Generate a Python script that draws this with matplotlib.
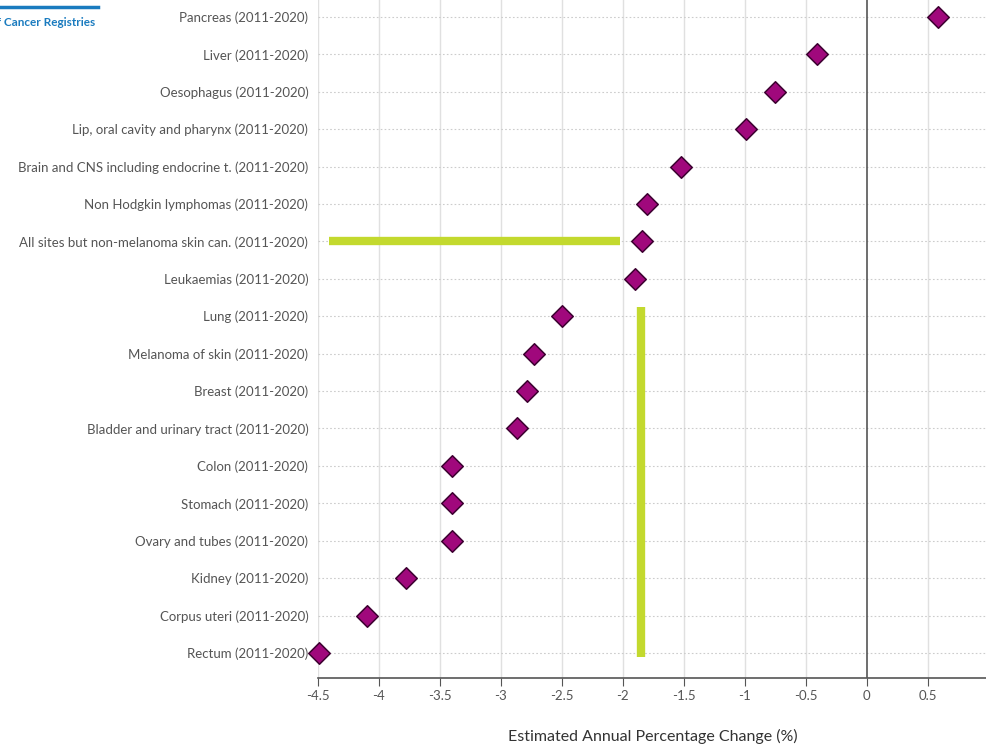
import matplotlib.pyplot as plt
import numpy as np

plt.rcParams['font.family'] = ['Lato', 'DejaVu Sans']

# Data
sites = ['Pancreas', 'Liver', 'Oesophagus', 'Lip, oral cavity and pharynx',
         'Brain and CNS including endocrine t.', 'Non Hodgkin lymphomas',
         'All sites but non-melanoma skin can.', 'Leukaemias', 'Lung',
         'Melanoma of skin', 'Breast', 'Bladder and urinary tract', 'Colon',
         'Stomach', 'Ovary and tubes', 'Kidney', 'Corpus uteri', 'Rectum']
period = '(2011-2020)'
eapc = [0.58, -0.41, -0.755, -0.99, -1.52, -1.80, -1.84, -1.90, -2.50,
        -2.73, -2.79, -2.87, -3.40, -3.40, -3.40, -3.78, -4.10, -4.49]
xticks = [-4.5, -4, -3.5, -3, -2.5, -2, -1.5, -1, -0.5, 0, 0.5]

# highlight strokes drawn on top of the chart (data coordinates)
hl_h_x = [-4.41, -2.02]
hl_h_y = 'All sites but non-melanoma skin can.'
hl_v_x = -1.85
hl_v_rows = ['Lung', 'Rectum']

labels = [f'{s} {period}' for s in sites]
n = len(sites)
ypos = np.arange(n)[::-1]  # first site on top
row = dict(zip(sites, ypos))

fig = plt.figure(figsize=(9.87, 7.49), dpi=100)
ax = fig.add_axes([318 / 987, 1 - 678 / 749, 1 - 318 / 987, 678 / 749])

ax.set_xlim(-4.5, 0.985)
ax.set_ylim(-0.67, n - 1 + 0.45)

# grid
for x in xticks:
    if x == 0:
        continue
    ax.axvline(x, color='#e0e0e0', lw=1, zorder=0)
for y in ypos:
    ax.axhline(y, color='#cccccc', lw=0.8, ls=(0, (1.5, 2)), zorder=0)
ax.axvline(0, color='#555555', lw=1.2, zorder=1)

ax.scatter(eapc, ypos, marker='D', s=120, color='#a0087c',
           edgecolor='#3c0030', linewidth=1.1, zorder=3, clip_on=False)

# highlight strokes
ax.plot(hl_h_x, [row[hl_h_y]] * 2, color='#c3d92e', lw=6, solid_capstyle='butt', zorder=4)
ax.plot([hl_v_x] * 2, [row[hl_v_rows[0]] + 0.25, row[hl_v_rows[1]] - 0.1],
        color='#c3d92e', lw=6, solid_capstyle='butt', zorder=4)

ax.set_yticks(ypos)
ax.set_yticklabels(labels, fontsize=9.5, color='#555555')
ax.tick_params(axis='y', length=0, pad=7)
ax.set_xticks(xticks)
ax.set_xticklabels([f'{x:g}' for x in xticks], fontsize=9.5, color='#555555')
ax.tick_params(axis='x', length=6, color='#555555', pad=3)

for s in ['top', 'right', 'left']:
    ax.spines[s].set_visible(False)
ax.spines['bottom'].set_color('#555555')
ax.spines['bottom'].set_linewidth(1.2)

ax.set_xlabel('Estimated Annual Percentage Change (%)', fontsize=11.5,
              color='#333333', labelpad=19)

# partially visible logo at top-left
fig.text(95 / 987, 1 - 23 / 749, 'of Cancer Registries', ha='right',
         va='center', fontsize=8.5, fontweight='bold', color='#1a7bbf')
fig.add_artist(plt.Line2D([0, 98 / 987], [1 - 7 / 749] * 2, color='#1a7bbf', lw=2.5))

fig.savefig('out.png', dpi=100)
